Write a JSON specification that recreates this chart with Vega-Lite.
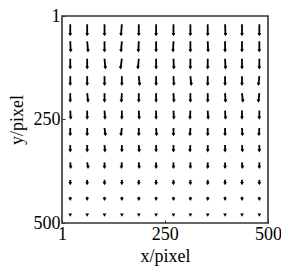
{
  "$schema": "https://vega.github.io/schema/vega-lite/v6.json",
  "width": 206,
  "height": 207,
  "autosize": "none",
  "padding": {"left": 62, "top": 16, "right": 13, "bottom": 43},
  "config": {
    "view": {"stroke": "#333", "strokeWidth": 1.6},
    "font": "Liberation Serif",
    "axis": {"labelFont": "Liberation Serif", "titleFont": "Liberation Serif", "labelFontSize": 18, "titleFontSize": 18, "labelColor": "#000", "titleColor": "#000", "titleFontWeight": "normal", "domain": false, "grid": false, "tickColor": "#333", "tickSize": -3, "labelPadding": 5, "labelFlush": false, "labelOverlap": false}
  },
  "data": {"values": [
    {"x":21,"y":21,"xe":21,"ye":46},{"x":62,"y":21,"xe":62,"ye":46},{"x":104,"y":21,"xe":104,"ye":46},{"x":146,"y":21,"xe":144,"ye":46},{"x":187,"y":21,"xe":187,"ye":46},{"x":229,"y":21,"xe":229,"ye":46},{"x":271,"y":21,"xe":271,"ye":46},{"x":312,"y":21,"xe":312,"ye":46},{"x":354,"y":21,"xe":354,"ye":46},{"x":396,"y":21,"xe":397,"ye":46},{"x":437,"y":21,"xe":437,"ye":46},{"x":479,"y":21,"xe":479,"ye":46},
    {"x":21,"y":62,"xe":22,"ye":85},{"x":62,"y":62,"xe":64,"ye":85},{"x":104,"y":62,"xe":104,"ye":85},{"x":146,"y":62,"xe":144,"ye":85},{"x":187,"y":62,"xe":186,"ye":85},{"x":229,"y":62,"xe":229,"ye":85},{"x":271,"y":62,"xe":270,"ye":85},{"x":312,"y":62,"xe":312,"ye":85},{"x":354,"y":62,"xe":355,"ye":85},{"x":396,"y":62,"xe":396,"ye":85},{"x":437,"y":62,"xe":437,"ye":85},{"x":479,"y":62,"xe":479,"ye":85},
    {"x":21,"y":104,"xe":21,"ye":126},{"x":62,"y":104,"xe":62,"ye":126},{"x":104,"y":104,"xe":106,"ye":126},{"x":146,"y":104,"xe":143,"ye":126},{"x":187,"y":104,"xe":185,"ye":126},{"x":229,"y":104,"xe":229,"ye":126},{"x":271,"y":104,"xe":272,"ye":126},{"x":312,"y":104,"xe":312,"ye":126},{"x":354,"y":104,"xe":354,"ye":126},{"x":396,"y":104,"xe":397,"ye":126},{"x":437,"y":104,"xe":437,"ye":126},{"x":479,"y":104,"xe":479,"ye":126},
    {"x":21,"y":146,"xe":21,"ye":166},{"x":62,"y":146,"xe":62,"ye":166},{"x":104,"y":146,"xe":104,"ye":166},{"x":146,"y":146,"xe":146,"ye":166},{"x":187,"y":146,"xe":189,"ye":166},{"x":229,"y":146,"xe":229,"ye":166},{"x":271,"y":146,"xe":272,"ye":166},{"x":312,"y":146,"xe":314,"ye":166},{"x":354,"y":146,"xe":354,"ye":166},{"x":396,"y":146,"xe":396,"ye":166},{"x":437,"y":146,"xe":437,"ye":166},{"x":479,"y":146,"xe":477,"ye":166},
    {"x":21,"y":187,"xe":21,"ye":206},{"x":62,"y":187,"xe":64,"ye":206},{"x":104,"y":187,"xe":104,"ye":206},{"x":146,"y":187,"xe":145,"ye":206},{"x":187,"y":187,"xe":187,"ye":206},{"x":229,"y":187,"xe":229,"ye":206},{"x":271,"y":187,"xe":272,"ye":206},{"x":312,"y":187,"xe":312,"ye":206},{"x":354,"y":187,"xe":354,"ye":206},{"x":396,"y":187,"xe":397,"ye":206},{"x":437,"y":187,"xe":439,"ye":206},{"x":479,"y":187,"xe":477,"ye":206},
    {"x":21,"y":229,"xe":22,"ye":247},{"x":62,"y":229,"xe":62,"ye":247},{"x":104,"y":229,"xe":105,"ye":247},{"x":146,"y":229,"xe":146,"ye":247},{"x":187,"y":229,"xe":188,"ye":247},{"x":229,"y":229,"xe":229,"ye":247},{"x":271,"y":229,"xe":272,"ye":247},{"x":312,"y":229,"xe":311,"ye":247},{"x":354,"y":229,"xe":355,"ye":247},{"x":396,"y":229,"xe":397,"ye":247},{"x":437,"y":229,"xe":437,"ye":247},{"x":479,"y":229,"xe":479,"ye":247},
    {"x":21,"y":271,"xe":21,"ye":287},{"x":62,"y":271,"xe":62,"ye":287},{"x":104,"y":271,"xe":106,"ye":287},{"x":146,"y":271,"xe":144,"ye":287},{"x":187,"y":271,"xe":187,"ye":287},{"x":229,"y":271,"xe":230,"ye":287},{"x":271,"y":271,"xe":271,"ye":287},{"x":312,"y":271,"xe":311,"ye":287},{"x":354,"y":271,"xe":354,"ye":287},{"x":396,"y":271,"xe":396,"ye":287},{"x":437,"y":271,"xe":438,"ye":287},{"x":479,"y":271,"xe":478,"ye":287},
    {"x":21,"y":312,"xe":21,"ye":326},{"x":62,"y":312,"xe":62,"ye":326},{"x":104,"y":312,"xe":105,"ye":326},{"x":146,"y":312,"xe":146,"ye":326},{"x":187,"y":312,"xe":188,"ye":326},{"x":229,"y":312,"xe":229,"ye":326},{"x":271,"y":312,"xe":271,"ye":326},{"x":312,"y":312,"xe":311,"ye":326},{"x":354,"y":312,"xe":354,"ye":326},{"x":396,"y":312,"xe":396,"ye":326},{"x":437,"y":312,"xe":438,"ye":326},{"x":479,"y":312,"xe":479,"ye":326},
    {"x":21,"y":354,"xe":22,"ye":366},{"x":62,"y":354,"xe":64,"ye":366},{"x":104,"y":354,"xe":104,"ye":366},{"x":146,"y":354,"xe":145,"ye":366},{"x":187,"y":354,"xe":188,"ye":366},{"x":229,"y":354,"xe":229,"ye":366},{"x":271,"y":354,"xe":271,"ye":366},{"x":312,"y":354,"xe":312,"ye":366},{"x":354,"y":354,"xe":354,"ye":366},{"x":396,"y":354,"xe":396,"ye":366},{"x":437,"y":354,"xe":438,"ye":366},{"x":479,"y":354,"xe":479,"ye":366},
    {"x":21,"y":396,"xe":21,"ye":405},{"x":62,"y":396,"xe":62,"ye":405},{"x":104,"y":396,"xe":104,"ye":405},{"x":146,"y":396,"xe":146,"ye":405},{"x":187,"y":396,"xe":187,"ye":405},{"x":229,"y":396,"xe":229,"ye":405},{"x":271,"y":396,"xe":271,"ye":405},{"x":312,"y":396,"xe":312,"ye":405},{"x":354,"y":396,"xe":354,"ye":405},{"x":396,"y":396,"xe":396,"ye":405},{"x":437,"y":396,"xe":437,"ye":405},{"x":479,"y":396,"xe":479,"ye":405},
    {"x":21,"y":437,"xe":21,"ye":443},{"x":62,"y":437,"xe":62,"ye":443},{"x":104,"y":437,"xe":104,"ye":443},{"x":146,"y":437,"xe":146,"ye":443},{"x":187,"y":437,"xe":187,"ye":443},{"x":229,"y":437,"xe":229,"ye":443},{"x":271,"y":437,"xe":271,"ye":443},{"x":312,"y":437,"xe":312,"ye":443},{"x":354,"y":437,"xe":354,"ye":443},{"x":396,"y":437,"xe":396,"ye":443},{"x":437,"y":437,"xe":437,"ye":443},{"x":479,"y":437,"xe":479,"ye":443},
    {"x":21,"y":479,"xe":21,"ye":481},{"x":62,"y":479,"xe":62,"ye":481},{"x":104,"y":479,"xe":104,"ye":481},{"x":146,"y":479,"xe":146,"ye":481},{"x":187,"y":479,"xe":187,"ye":481},{"x":229,"y":479,"xe":229,"ye":481},{"x":271,"y":479,"xe":271,"ye":481},{"x":312,"y":479,"xe":312,"ye":481},{"x":354,"y":479,"xe":354,"ye":481},{"x":396,"y":479,"xe":396,"ye":481},{"x":437,"y":479,"xe":437,"ye":481},{"x":479,"y":479,"xe":479,"ye":481}
  ]},
  "layer": [
    {
      "mark": {"type": "rule", "color": "#000", "strokeWidth": 1.8},
      "encoding": {
        "x": {"field": "x", "type": "quantitative", "scale": {"domain": [1, 500], "nice": false, "zero": false}, "axis": {"values": [1, 250, 500], "title": "x/pixel", "titlePadding": 4}},
        "y": {"field": "y", "type": "quantitative", "scale": {"domain": [1, 500], "nice": false, "zero": false, "reverse": true}, "axis": {"values": [1, 250, 500], "title": "y/pixel", "titlePadding": 7}},
        "x2": {"field": "xe"},
        "y2": {"field": "ye"}
      }
    },
    {
      "mark": {"type": "point", "shape": "triangle-down", "filled": true, "color": "#000", "size": 14, "opacity": 1},
      "encoding": {
        "x": {"field": "xe", "type": "quantitative"},
        "y": {"field": "ye", "type": "quantitative"}
      }
    }
  ]
}
